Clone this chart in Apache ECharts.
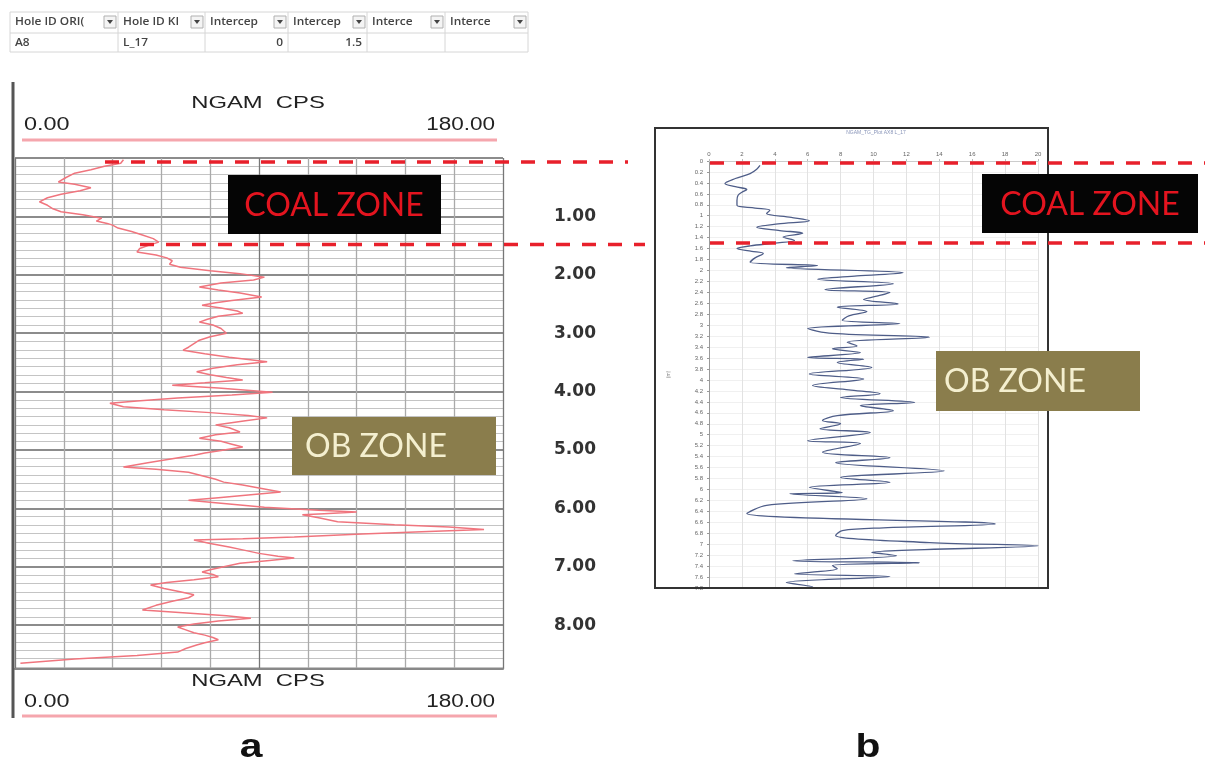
<!DOCTYPE html>
<html><head><meta charset="utf-8">
<script src="https://cdn.jsdelivr.net/npm/echarts@6/dist/echarts.min.js"></script>
<style>html,body{margin:0;padding:0;background:#fff;}#c{width:1205px;height:768px;}</style>
</head><body><div id="c"></div>
<script>
// ---- table (top) ----
const tableHeaders = ['Hole ID ORI(', 'Hole ID KI', 'Intercep', 'Intercep', 'Interce', 'Interce'];
const tableRow = ['A8', 'L_17', '0', '1.5', '', ''];
const coalTop = 0, coalBottom = 1.5;

// ---- chart a : NGAM CPS vs depth ----
const depthA = [0.03,0.09,0.14,0.20,0.26,0.33,0.41,0.45,0.51,0.56,0.62,0.68,0.75,0.81,0.87,0.92,0.97,1.03,1.08,1.12,1.15,1.20,1.26,1.32,1.38,1.44,1.50,1.55,1.61,1.66,1.71,1.76,1.82,1.87,1.93,1.98,2.04,2.09,2.14,2.21,2.26,2.31,2.38,2.44,2.48,2.52,2.57,2.62,2.66,2.71,2.76,2.81,2.86,2.92,3.00,3.06,3.12,3.18,3.24,3.29,3.35,3.41,3.45,3.49,3.54,3.60,3.66,3.71,3.76,3.80,3.85,3.89,3.94,4.01,4.06,4.11,4.16,4.20,4.26,4.31,4.36,4.41,4.45,4.50,4.57,4.62,4.69,4.74,4.80,4.85,4.90,4.95,5.01,5.05,5.09,5.15,5.22,5.29,5.33,5.38,5.44,5.50,5.55,5.60,5.66,5.72,5.77,5.82,5.86,5.92,5.98,6.03,6.06,6.09,6.11,6.16,6.23,6.28,6.32,6.36,6.40,6.44,6.49,6.52,6.54,6.60,6.66,6.71,6.77,6.82,6.85,6.90,6.94,7.00,7.05,7.09,7.13,7.17,7.22,7.27,7.31,7.37,7.42,7.48,7.53,7.59,7.66,7.74,7.80,7.84,7.88,7.93,7.98,8.03,8.08,8.13,8.17,8.21,8.25,8.30,8.34,8.40,8.46,8.52,8.58,8.65];
const cpsA = [40,39,33,28,22,19,16,22,28,24,17,12,9,12,14,17,25,32,30,34,36,38,43,47,51,53,49,46,45,52,56,58,57,61,72,83,92,88,76,68,75,83,91,80,74,69,76,82,84,75,71,68,73,76,78,72,68,66,64,62,70,79,86,93,82,73,67,72,78,84,70,58,75,95,80,60,45,35,40,55,72,86,93,85,74,79,83,74,68,76,80,84,76,70,66,58,49,40,52,64,69,74,77,84,91,98,86,74,64,78,92,112,126,114,106,112,119,140,160,173,150,128,103,84,66,72,79,84,90,97,103,92,83,77,72,69,73,75,66,56,50,55,60,66,64,58,52,47,66,78,87,75,66,60,63,66,70,73,75,70,67,63,60,45,22,2];

// ---- chart b ----
const depthB = [0.08,0.15,0.23,0.32,0.41,0.47,0.52,0.57,0.63,0.72,0.81,0.86,0.90,0.96,1.03,1.09,1.15,1.21,1.27,1.32,1.39,1.45,1.50,1.55,1.60,1.65,1.69,1.77,1.85,1.91,1.95,2.04,2.10,2.16,2.24,2.35,2.40,2.47,2.53,2.61,2.67,2.75,2.83,2.91,2.97,3.06,3.15,3.22,3.31,3.38,3.43,3.50,3.59,3.62,3.68,3.77,3.89,3.98,4.10,4.18,4.25,4.32,4.41,4.47,4.56,4.65,4.74,4.80,4.89,4.96,5.11,5.16,5.32,5.42,5.51,5.66,5.78,5.87,5.96,6.06,6.08,6.17,6.29,6.44,6.63,6.70,6.75,6.84,6.97,7.03,7.15,7.21,7.30,7.34,7.39,7.45,7.54,7.59,7.70,7.78,7.81];
const valB = [3.1,2.9,2.5,1.6,0.97,1.6,2.3,2.0,1.76,1.7,1.7,2.8,3.7,3.5,5.0,6.1,4.2,2.9,4.3,5.7,4.5,5.2,4.0,2.5,1.7,2.6,3.3,2.8,2.5,6.6,4.7,11.8,9.0,6.6,11.2,7.05,11,10.2,9.4,11.5,7.8,9.6,8.5,8.1,11.6,6.0,7.5,13.4,8.4,9.0,7.5,9.2,6.0,9.4,7.8,9.9,6.1,9.4,6.3,8.5,10.4,8.0,12.5,9.2,11.2,7.8,6.9,8.0,6.75,9.8,6.0,9.2,6.9,11,7.7,14.3,8.0,11,6.1,8.1,4.9,9.6,3.5,2.3,17.4,10.6,8.1,7.7,13.4,20,9.9,11.4,5.1,12.8,7.5,7.8,5.2,11,4.7,6.3,4.9];

const xSplitColorsA = ['#777','#aaa','#aaa','#aaa','#aaa','#777','#aaa','#aaa','#aaa','#aaa','#777'];

const chart = echarts.init(document.getElementById('c'), null, {renderer:'canvas'});
const option = {
  backgroundColor:'#fff',
  animation:false,
  grid:[
    {left:15, top:158, width:488, height:511},
    {left:709, top:161, width:329, height:427}
  ],
  xAxis:[
    {gridIndex:0, type:'value', min:0, max:180, interval:18,
     axisLabel:{show:false}, axisTick:{show:false},
     axisLine:{show:true, onZero:false, lineStyle:{color:'#888', width:2}},
     splitLine:{show:true, lineStyle:{color:xSplitColorsA, width:1.3}}},
    {gridIndex:1, type:'value', min:0, max:20, interval:2, position:'top',
     axisLabel:{show:true, fontSize:6, color:'#666', margin:4},
     axisTick:{show:true, length:2, lineStyle:{color:'#bbb'}},
     axisLine:{show:true, onZero:false, lineStyle:{color:'#ccc'}},
     splitLine:{show:true, lineStyle:{color:'#e2e2e2', width:1}}}
  ],
  yAxis:[
    {gridIndex:0, type:'value', inverse:true, min:0, max:8.75, interval:1,
     axisLabel:{show:false}, axisTick:{show:false}, axisLine:{show:false},
     splitLine:{show:true, lineStyle:{color:'#8c8c8c', width:2}},
     minorTick:{show:false, splitNumber:7},
     minorSplitLine:{show:true, lineStyle:{color:'#c4c4c4', width:1}}},
    {gridIndex:0, type:'value', inverse:true, min:0, max:8.75, interval:1, position:'right',
     axisLine:{show:false}, axisTick:{show:false}, splitLine:{show:false},
     axisLabel:{show:true, showMaxLabel:false, margin:72, align:'center', color:'#333', fontSize:17, fontWeight:'bold', fontFamily:'DejaVu Sans',
       formatter:v => (v === 0 || v % 1 !== 0) ? '' : v.toFixed(2)}},
    {gridIndex:1, type:'value', inverse:true, min:0, max:7.8, interval:0.2,
     name:'(m)', nameLocation:'middle', nameGap:38, nameTextStyle:{fontSize:5, color:'#888'},
     axisLabel:{show:true, fontSize:6, color:'#666', margin:6, formatter:v => String(+v.toFixed(1))},
     axisTick:{show:true, length:2, lineStyle:{color:'#999'}},
     axisLine:{show:true, onZero:false, lineStyle:{color:'#999'}},
     splitLine:{show:true, lineStyle:{color:'#f0f0f0', width:1}}}
  ],
  series:[
    {type:'line', xAxisIndex:0, yAxisIndex:0, showSymbol:false, symbol:'none',
     lineStyle:{color:'#f0757e', width:1.5}, data:depthA.map((d,i)=>[cpsA[i], d]), z:5},
    {type:'line', xAxisIndex:1, yAxisIndex:2, showSymbol:false, symbol:'none', smooth:0.35,
     lineStyle:{color:'#4e5d88', width:1.3}, data:depthB.map((d,i)=>[valB[i], d]), z:5}
  ]
};
chart.setOption(option);

// ---- annotations ----
const g = [];
const font = (size, weight, fam) => ({fontSize:size, fontWeight:weight||'normal', fontFamily:fam||'Liberation Sans'});
function txt(x, y, s, opt) {
  opt = opt || {};
  g.push({type:'text', x:x, y:y, scaleX:opt.sx||1, z:opt.z||20,
    style:Object.assign({text:s, fill:opt.fill||'#222', textAlign:opt.align||'left', textVerticalAlign:'middle'},
      font(opt.size||12, opt.weight, opt.fam))});
}
function line(x1,y1,x2,y2,color,w,dash,z) {
  g.push({type:'line', z:z||10, shape:{x1,y1,x2,y2}, style:{stroke:color, lineWidth:w, lineDash:dash||null}});
}
function rect(x,y,w,h,fill,stroke,lw,z) {
  g.push({type:'rect', z:z||10, shape:{x,y,width:w,height:h}, style:{fill:fill||'none', stroke:stroke||null, lineWidth:lw||0}});
}

// table
const colX = [10, 118, 205, 288, 367, 445, 528];
const rowY = [12, 33, 52];
rowY.forEach(y => line(colX[0], y, colX[6], y, '#d6d6d6', 1));
colX.forEach(x => line(x, rowY[0], x, rowY[2], '#d6d6d6', 1));
tableHeaders.forEach((h, i) => {
  txt(colX[i] + 5, 22, h, {size:11, weight:600, fam:'Open Sans', fill:'#444', sx:1.08});
  const bx = colX[i+1] - 14;
  rect(bx, 16, 12, 12, '#f4f4f4', '#b0b0b0', 1, 15);
  g.push({type:'polygon', z:16, shape:{points:[[bx+3,20],[bx+9,20],[bx+6,24]]}, style:{fill:'#444'}});
});
tableRow.forEach((v, i) => {
  if (!v) return;
  const numeric = !isNaN(parseFloat(v)) && i >= 2;
  if (numeric) txt(colX[i+1] - 5, 43, v, {size:11, weight:600, fam:'Open Sans', fill:'#444', align:'right', sx:1.08});
  else txt(colX[i] + 5, 43, v, {size:11, weight:600, fam:'Open Sans', fill:'#444', sx:1.08});
});

// chart a frame / headers
line(13, 82, 13, 718, '#555', 3);
txt(258, 103, 'NGAM  CPS', {size:17, align:'center', sx:1.4, fill:'#222'});
txt(24, 125, '0.00', {size:18, sx:1.3, fill:'#222'});
txt(495, 125, '180.00', {size:18, align:'right', sx:1.25, fill:'#222'});
line(22, 140, 497, 140, '#f5a6ad', 3);
txt(258, 681, 'NGAM  CPS', {size:17, align:'center', sx:1.4, fill:'#222'});
txt(24, 702, '0.00', {size:18, sx:1.3, fill:'#222'});
txt(495, 702, '180.00', {size:18, align:'right', sx:1.25, fill:'#222'});
line(22, 716, 497, 716, '#f5a6ad', 3);

// chart b frame & title
rect(655, 128, 393, 460, null, '#333', 2, 12);
txt(876, 133, 'NGAM_TG_Plot AX8 L_17', {size:5, align:'center', fill:'#8894b8', fam:'Liberation Sans'});

// coal zone dashed lines (table intercepts)
const aTop = chart.convertToPixel({gridIndex:0}, [0, coalTop])[1] + 4;
const aBot = chart.convertToPixel({gridIndex:0}, [0, coalBottom])[1] - 1;
const bTop = chart.convertToPixel({gridIndex:1}, [0, coalTop])[1] + 2;
const bBot = chart.convertToPixel({gridIndex:1}, [0, coalBottom])[1];
const dash = [14, 12];
line(105, aTop, 628, aTop, '#e8202b', 3.5, dash, 30);
line(710, bTop, 1205, bTop, '#e8202b', 3.5, dash, 30);
line(140, aBot, 645, aBot, '#e8202b', 3.5, dash, 30);
line(710, bBot, 1205, bBot, '#e8202b', 3.5, dash, 30);

// zone boxes
rect(228, 175, 213, 59, '#050505', null, 0, 25);
txt(334, 206, 'COAL ZONE', {size:32, fam:'Lato', fill:'#e3141f', align:'center', z:26});
rect(982, 174, 216, 59, '#050505', null, 0, 25);
txt(1090, 205, 'COAL ZONE', {size:32, fam:'Lato', fill:'#e3141f', align:'center', z:26});
rect(292, 417, 204, 58, '#8a7d4c', null, 0, 25);
txt(376, 447, 'OB ZONE', {size:32, fam:'Lato', fill:'#f4efcf', align:'center', z:26});
rect(936, 351, 204, 60, '#8a7d4c', null, 0, 25);
txt(1015, 382, 'OB ZONE', {size:32, fam:'Lato', fill:'#f4efcf', align:'center', z:26});

// panel letters
txt(251, 748, 'a', {size:34, weight:'bold', align:'center', sx:1.2, fill:'#111'});
txt(868, 748, 'b', {size:34, weight:'bold', align:'center', sx:1.2, fill:'#111'});

chart.setOption({graphic:{elements:g}});
</script></body></html>
